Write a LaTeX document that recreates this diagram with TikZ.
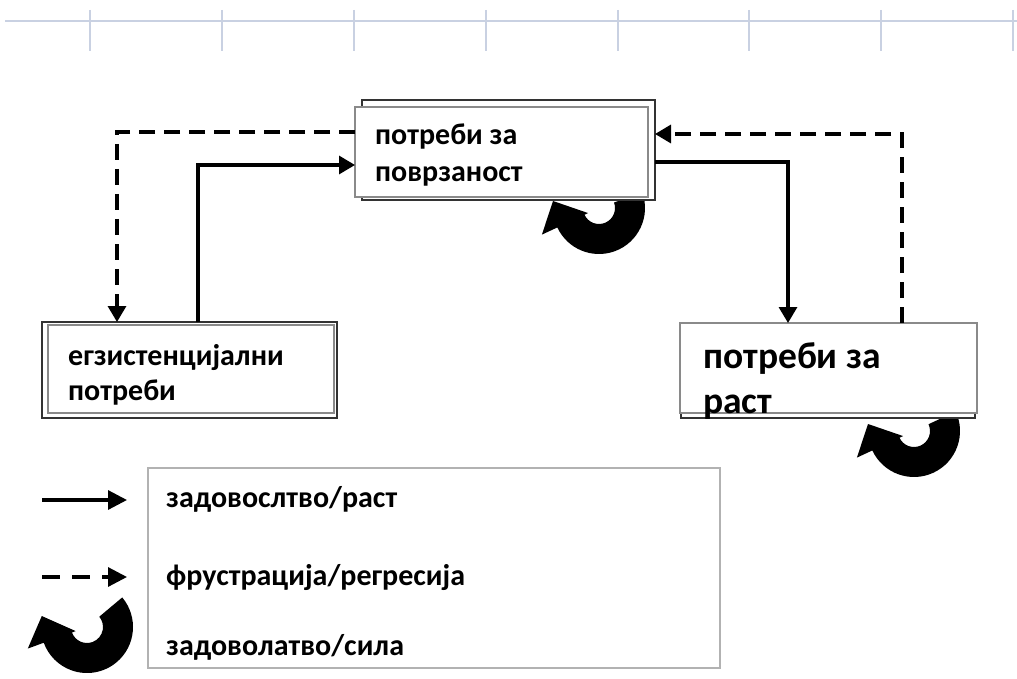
\documentclass[tikz,border=0pt]{standalone}
\usepackage{fontspec}
\setmainfont{Carlito}
\usetikzlibrary{arrows.meta,calc}

\definecolor{rulecol}{HTML}{C9D1E2}
\definecolor{edgecol}{HTML}{8A8A8A}

% thick U-turn arrow, drawn around the centre of its arc
\newcommand\uturnshape[1]{%
  \fill (#1:46) arc[start angle=#1,end angle=155,radius=46]
    -- (155:63) -- (-46,-7) -- (155:12) -- (155:16)
    arc[start angle=155,end angle=#1,radius=16] -- cycle;}

\begin{document}
\begin{tikzpicture}[x=1pt,y=-1pt,
  rulestroke/.style={draw=rulecol,line width=1.6pt},
  backbox/.style={draw=black!80,line width=1.4pt,fill=white,inner sep=0pt,outer sep=0pt},
  frontbox/.style={draw=edgecol,line width=1.2pt,fill=white,inner sep=0pt,outer sep=0pt},
  legendbox/.style={draw=black!30,line width=1.2pt,fill=white,inner sep=0pt,outer sep=0pt},
  flow/.style={line width=3.2pt,-{Triangle[length=16pt,width=18pt]}},
  regress/.style={flow,dash pattern=on 16pt off 9pt},
  keyflow/.style={line width=3.2pt,-{Triangle[length=19pt,width=19pt]}},
  keyregress/.style={keyflow,dash pattern=on 18pt off 12pt},
  txt/.style={font=\bfseries\fontsize{30}{36}\selectfont,anchor=base west,inner sep=0pt},
  bigtxt/.style={font=\bfseries\fontsize{37.5}{44}\selectfont,anchor=base west,inner sep=0pt}]
\useasboundingbox (0,0) rectangle (1017,679);

% ruler along the top
\draw[rulestroke] (5,21) -- (1017,21);
\foreach \tx in {90,222,354,486,618,749,881,1013}
  \draw[rulestroke] (\tx,10) -- (\tx,51);

% U-turn arrows (behind the boxes)
\begin{scope}[shift={(599,208)}] \uturnshape{-20} \end{scope}
\begin{scope}[shift={(914,431)}] \uturnshape{-25} \end{scope}

% boxes: a back frame with a front panel
\node[backbox,minimum width=293pt,minimum height=100pt] (topB) at (508.5,150) {};
\node[frontbox,minimum width=293pt,minimum height=90pt] (topF) at (501.5,152) {};
\node[backbox,minimum width=295pt,minimum height=96pt] (leftB) at (189.5,370) {};
\node[frontbox,minimum width=286pt,minimum height=88pt] (leftF) at (191,369) {};
\node[backbox,minimum width=294pt,minimum height=90pt] (rightB) at (828,373) {};
\node[frontbox,minimum width=297pt,minimum height=90pt] (rightF) at (828.5,368) {};

% box texts
\node[txt] (t1a) at (375,145) {потреби за};
\node[txt] (t1b) at (375,182) {поврзаност};
\node[txt] (t2a) at (68,365) {егзистенцијални};
\node[txt] (t2b) at (68,400) {потреби};
\node[bigtxt] (t3a) at (703,368) {потреби за};
\node[bigtxt] (t3b) at (703,413) {раст};

% connectors
\draw[regress] ([yshift=20pt]topF.west) -| ([xshift=-72.5pt]leftB.north);
\draw[flow] ([xshift=8.5pt]leftB.north) |- ([yshift=-13pt]topF.west);
\draw[flow] ([yshift=-12pt]topB.east) -| ([xshift=-40.5pt]rightF.north);
\draw[regress] ([xshift=73.5pt]rightF.north) |- ([yshift=16pt]topB.east);

% legend
\node[legendbox,minimum width=572pt,minimum height=200pt] (key) at (434,568) {};
\node[txt] (k1) at (166,507) {задовослтво/раст};
\node[txt] (k2) at (166,585) {фрустрација/регресија};
\node[txt] (k3) at (166,655) {задоволатво/сила};
\coordinate (s1) at (42,500);
\coordinate (e1) at (127,500);
\coordinate (s2) at (42,577);
\coordinate (e2) at (127,577);
\draw[keyflow] (s1) -- (e1);
\draw[keyregress] (s2) -- (e2);
\begin{scope}[shift={(87,627)},rotate=-5] \uturnshape{-45} \end{scope}
\end{tikzpicture}
\end{document}
